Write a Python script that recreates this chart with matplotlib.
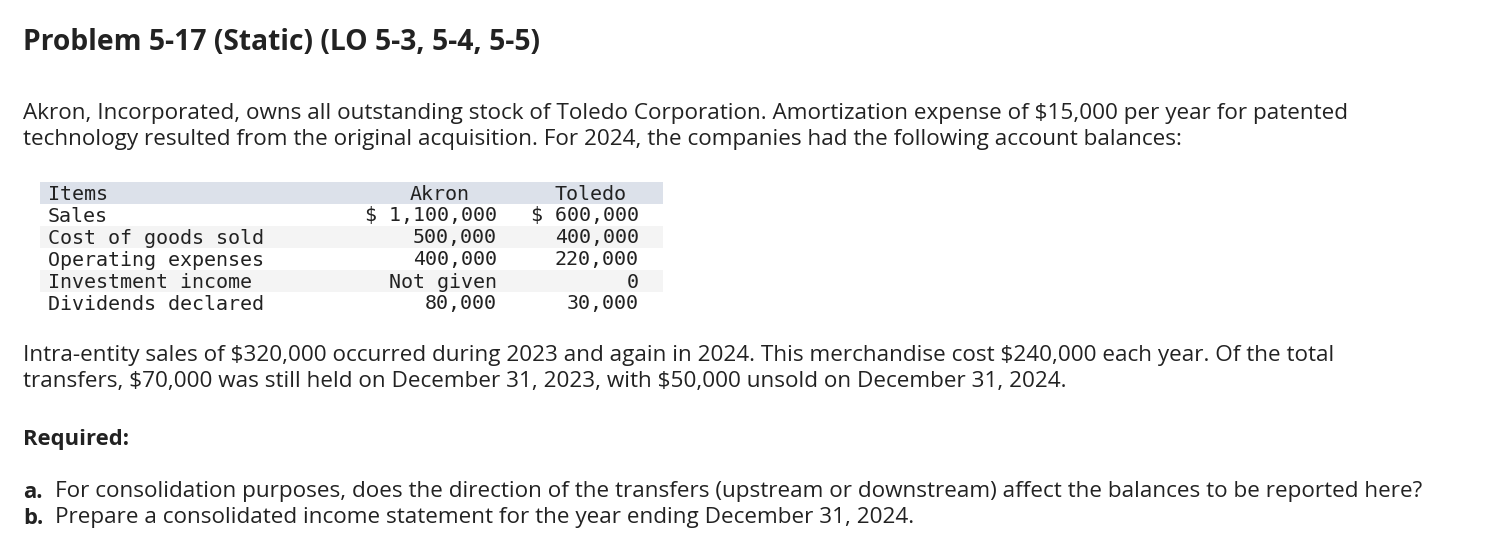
import matplotlib
matplotlib.use("Agg")
import matplotlib.pyplot as plt
from matplotlib.patches import Rectangle

plt.rcParams['text.parse_math'] = False

TEXT = '#222222'
SANS = ['Open Sans', 'DejaVu Sans']
MONO = 'DejaVu Sans Mono'
BODY = 16.2

title = "Problem 5-17 (Static) (LO 5-3, 5-4, 5-5)"
intro = ["Akron, Incorporated, owns all outstanding stock of Toledo Corporation. Amortization expense of $15,000 per year for patented",
         "technology resulted from the original acquisition. For 2024, the companies had the following account balances:"]
columns = ["Items", "Akron", "Toledo"]
items = ["Sales", "Cost of goods sold", "Operating expenses", "Investment income", "Dividends declared"]
akron = ["$ 1,100,000", "500,000", "400,000", "Not given", "80,000"]
toledo = ["$ 600,000", "400,000", "220,000", "0", "30,000"]
transfers = ["Intra-entity sales of $320,000 occurred during 2023 and again in 2024. This merchandise cost $240,000 each year. Of the total",
             "transfers, $70,000 was still held on December 31, 2023, with $50,000 unsold on December 31, 2024."]
required = ["For consolidation purposes, does the direction of the transfers (upstream or downstream) affect the balances to be reported here?",
            "Prepare a consolidated income statement for the year ending December 31, 2024."]

fig = plt.figure(figsize=(15.06, 5.56), dpi=100)
ax = fig.add_axes([0, 0, 1, 1])
ax.set_xlim(0, 1506)
ax.set_ylim(556, 0)
ax.axis('off')

ax.text(23, 43, title, fontsize=20.3, fontweight='bold', family=SANS, color=TEXT, va='center')

for i, line in enumerate(intro):
    ax.text(23, 113 + 26 * i, line, fontsize=BODY, family=SANS, color=TEXT, va='center')

# table
row_h = 22
top = 182
ax.add_patch(Rectangle((40, top), 623, row_h, color='#dce1ea', lw=0))
for i in range(len(items)):
    if i % 2 == 1:
        ax.add_patch(Rectangle((40, top + row_h * (i + 1)), 623, row_h, color='#f4f4f4', lw=0))

mono_kw = dict(fontsize=14.4, family=MONO, color=TEXT, va='center')
ax.text(48, top + row_h / 2 + 1, columns[0], **mono_kw)
ax.text(470, top + row_h / 2 + 1, columns[1], ha='right', **mono_kw)
ax.text(627, top + row_h / 2 + 1, columns[2], ha='right', **mono_kw)
for i, (name, a, t) in enumerate(zip(items, akron, toledo)):
    y = top + row_h * (i + 1.5) + 1
    ax.text(48, y, name, **mono_kw)
    ax.text(497, y, a, ha='right', **mono_kw)
    ax.text(639, y, t, ha='right', **mono_kw)

for i, line in enumerate(transfers):
    ax.text(23, 356 + 26 * i, line, fontsize=BODY, family=SANS, color=TEXT, va='center')

ax.text(23, 439, "Required:", fontsize=BODY - 0.4, fontweight='bold', family=SANS, color=TEXT, va='center')

for i, (lab, line) in enumerate(zip(["a.", "b."], required)):
    y = 492 + 26 * i
    ax.text(23, y, lab, fontsize=BODY - 0.4, fontweight='bold', family=SANS, color=TEXT, va='center')
    ax.text(55, y, line, fontsize=BODY, family=SANS, color=TEXT, va='center')

fig.savefig("out.png", dpi=100, facecolor='white')
